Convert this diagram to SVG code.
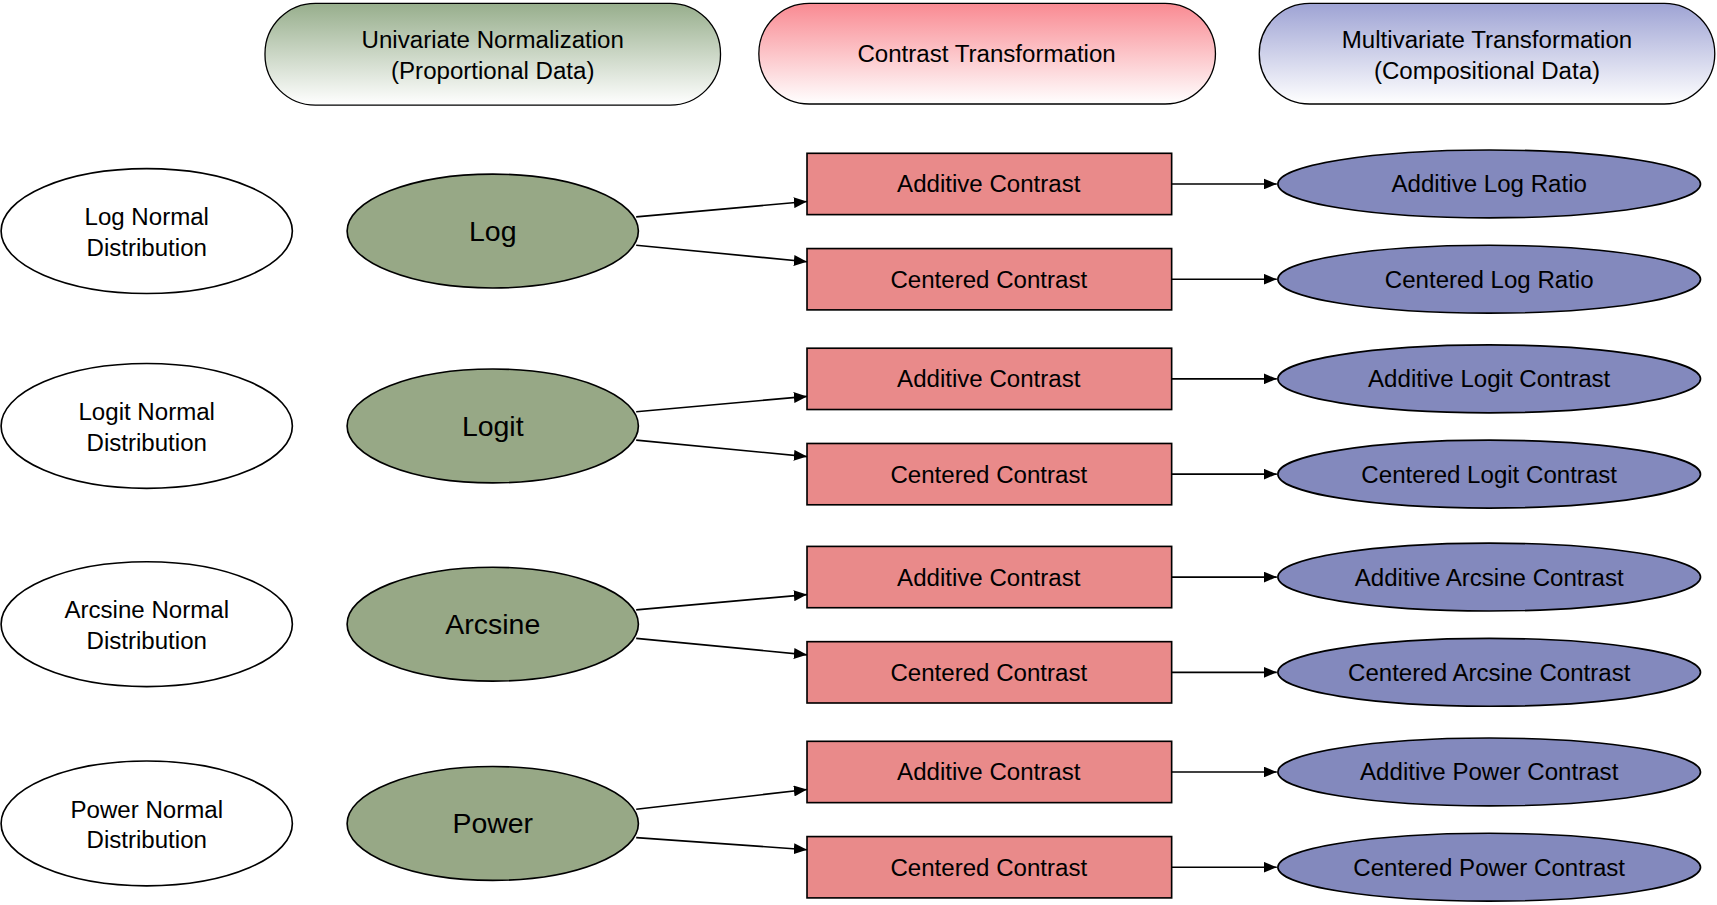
<svg xmlns="http://www.w3.org/2000/svg" width="1717" height="905" viewBox="0 0 1717 905">
<defs>
<linearGradient id="gg" x1="0" y1="0" x2="0" y2="1"><stop offset="0" stop-color="#97ae8c"/><stop offset="1" stop-color="#ffffff"/></linearGradient>
<linearGradient id="gr" x1="0" y1="0" x2="0" y2="1"><stop offset="0" stop-color="#f98a92"/><stop offset="1" stop-color="#ffffff"/></linearGradient>
<linearGradient id="gb" x1="0" y1="0" x2="0" y2="1"><stop offset="0" stop-color="#9ea3d4"/><stop offset="1" stop-color="#ffffff"/></linearGradient>
<marker id="ah" markerWidth="12" markerHeight="10" refX="12" refY="5" orient="auto" markerUnits="userSpaceOnUse"><path d="M0,0 L12,5 L0,10 z" fill="#000"/></marker>
<style>
text{font-family:"Liberation Sans",Arial,sans-serif;font-size:22px;text-anchor:middle;dominant-baseline:central;fill:#000}
.big{font-size:26px}
.hd{stroke:#000;stroke-width:1.2}
.w{fill:#fff;stroke:#000;stroke-width:1.5}
.g{fill:#97a886;stroke:#000;stroke-width:1.5}
.r{fill:#e98a8a;stroke:#000;stroke-width:1.5}
.p{fill:#8389bd;stroke:#000;stroke-width:1.5}
#connectors line{stroke:#000;stroke-width:1.5;marker-end:url(#ah)}
</style>
</defs>
<rect width="1717" height="905" fill="#fff"/>
<g transform="scale(1.095)">
<g id="h1"><rect x="242" y="3" width="416" height="93" rx="46" class="hd" fill="url(#gg)"/><text x="450" y="36">Univariate Normalization</text><text x="450" y="64">(Proportional Data)</text></g>
<g id="h2"><rect x="693" y="3" width="417" height="92" rx="46" class="hd" fill="url(#gr)"/><text x="901" y="49">Contrast Transformation</text></g>
<g id="h3"><rect x="1150" y="3" width="416" height="92" rx="46" class="hd" fill="url(#gb)"/><text x="1358" y="36">Multivariate Transformation</text><text x="1358" y="64">(Compositional Data)</text></g>

<g id="d1"><ellipse cx="134" cy="211" rx="133" ry="57" class="w"/><text x="134" y="198">Log Normal</text><text x="134" y="226">Distribution</text></g>
<g id="d2"><ellipse cx="134" cy="389" rx="133" ry="57" class="w"/><text x="134" y="376">Logit Normal</text><text x="134" y="404">Distribution</text></g>
<g id="d3"><ellipse cx="134" cy="570" rx="133" ry="57" class="w"/><text x="134" y="557">Arcsine Normal</text><text x="134" y="585">Distribution</text></g>
<g id="d4"><ellipse cx="134" cy="752" rx="133" ry="57" class="w"/><text x="134" y="739">Power Normal</text><text x="134" y="767">Distribution</text></g>

<g id="u1"><ellipse cx="450" cy="211" rx="133" ry="52" class="g"/><text class="big" x="450" y="211">Log</text></g>
<g id="u2"><ellipse cx="450" cy="389" rx="133" ry="52" class="g"/><text class="big" x="450" y="389">Logit</text></g>
<g id="u3"><ellipse cx="450" cy="570" rx="133" ry="52" class="g"/><text class="big" x="450" y="570">Arcsine</text></g>
<g id="u4"><ellipse cx="450" cy="752" rx="133" ry="52" class="g"/><text class="big" x="450" y="752">Power</text></g>

<g id="a1"><rect x="737" y="140" width="333" height="56" class="r"/><text x="903" y="168">Additive Contrast</text></g>
<g id="c1"><rect x="737" y="227" width="333" height="56" class="r"/><text x="903" y="255">Centered Contrast</text></g>
<g id="a2"><rect x="737" y="318" width="333" height="56" class="r"/><text x="903" y="346">Additive Contrast</text></g>
<g id="c2"><rect x="737" y="405" width="333" height="56" class="r"/><text x="903" y="433">Centered Contrast</text></g>
<g id="a3"><rect x="737" y="499" width="333" height="56" class="r"/><text x="903" y="527">Additive Contrast</text></g>
<g id="c3"><rect x="737" y="586" width="333" height="56" class="r"/><text x="903" y="614">Centered Contrast</text></g>
<g id="a4"><rect x="737" y="677" width="333" height="56" class="r"/><text x="903" y="705">Additive Contrast</text></g>
<g id="c4"><rect x="737" y="764" width="333" height="56" class="r"/><text x="903" y="792">Centered Contrast</text></g>

<g id="m1"><ellipse cx="1360" cy="168" rx="193" ry="31" class="p"/><text x="1360" y="168">Additive Log Ratio</text></g>
<g id="m2"><ellipse cx="1360" cy="255" rx="193" ry="31" class="p"/><text x="1360" y="255">Centered Log Ratio</text></g>
<g id="m3"><ellipse cx="1360" cy="346" rx="193" ry="31" class="p"/><text x="1360" y="346">Additive Logit Contrast</text></g>
<g id="m4"><ellipse cx="1360" cy="433" rx="193" ry="31" class="p"/><text x="1360" y="433">Centered Logit Contrast</text></g>
<g id="m5"><ellipse cx="1360" cy="527" rx="193" ry="31" class="p"/><text x="1360" y="527">Additive Arcsine Contrast</text></g>
<g id="m6"><ellipse cx="1360" cy="614" rx="193" ry="31" class="p"/><text x="1360" y="614">Centered Arcsine Contrast</text></g>
<g id="m7"><ellipse cx="1360" cy="705" rx="193" ry="31" class="p"/><text x="1360" y="705">Additive Power Contrast</text></g>
<g id="m8"><ellipse cx="1360" cy="792" rx="193" ry="31" class="p"/><text x="1360" y="792">Centered Power Contrast</text></g>

<g id="connectors">
<line x1="581" y1="198" x2="737" y2="184"/><line x1="581" y1="224" x2="737" y2="239"/>
<line x1="581" y1="376" x2="737" y2="362"/><line x1="581" y1="402" x2="737" y2="417"/>
<line x1="581" y1="557" x2="737" y2="543"/><line x1="581" y1="583" x2="737" y2="598"/>
<line x1="581" y1="739" x2="737" y2="721"/><line x1="581" y1="765" x2="737" y2="776"/>
<line x1="1070" y1="168" x2="1166" y2="168"/><line x1="1070" y1="255" x2="1166" y2="255"/>
<line x1="1070" y1="346" x2="1166" y2="346"/><line x1="1070" y1="433" x2="1166" y2="433"/>
<line x1="1070" y1="527" x2="1166" y2="527"/><line x1="1070" y1="614" x2="1166" y2="614"/>
<line x1="1070" y1="705" x2="1166" y2="705"/><line x1="1070" y1="792" x2="1166" y2="792"/>
</g>
</g>
</svg>
